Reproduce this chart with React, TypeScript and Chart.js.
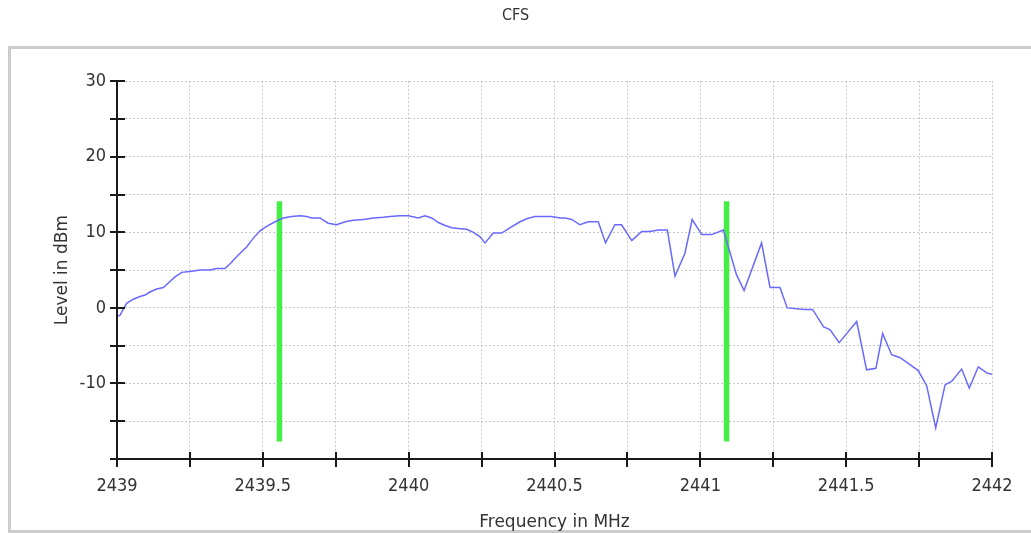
import React, { useEffect, useRef } from "react";
import { Chart, registerables } from "chart.js";

Chart.register(...registerables);

const titleText = "CFS";
const xTitle = "Frequency in MHz";
const yTitle = "Level in dBm";

const freq: number[] = [
  2439.0, 2439.01, 2439.033, 2439.056, 2439.079, 2439.096, 2439.113, 2439.136, 2439.159, 2439.176,
  2439.199, 2439.222, 2439.25, 2439.285, 2439.319, 2439.342, 2439.37, 2439.387, 2439.416, 2439.445,
  2439.467, 2439.49, 2439.513, 2439.542, 2439.57, 2439.599, 2439.627, 2439.65, 2439.668, 2439.696,
  2439.724, 2439.753, 2439.782, 2439.81, 2439.844, 2439.879, 2439.913, 2439.936, 2439.97, 2439.999,
  2440.022, 2440.033, 2440.056, 2440.079, 2440.102, 2440.125, 2440.148, 2440.17, 2440.199, 2440.222,
  2440.245, 2440.262, 2440.29, 2440.319, 2440.347, 2440.382, 2440.405, 2440.433, 2440.462, 2440.49,
  2440.519, 2440.536, 2440.559, 2440.587, 2440.616, 2440.65, 2440.675, 2440.707, 2440.73, 2440.765,
  2440.799, 2440.827, 2440.856, 2440.887, 2440.913, 2440.947, 2440.972, 2441.005, 2441.039, 2441.079,
  2441.124, 2441.15, 2441.21, 2441.239, 2441.273, 2441.298, 2441.359, 2441.385, 2441.422, 2441.445,
  2441.476, 2441.536, 2441.57, 2441.602, 2441.625, 2441.656, 2441.685, 2441.719, 2441.747, 2441.776,
  2441.807, 2441.839, 2441.862, 2441.896, 2441.922, 2441.953, 2441.982, 2442.0,
];

const level: number[] = [
  -1.1, -1.0, 0.6, 1.15, 1.5, 1.7, 2.1, 2.5, 2.7, 3.3,
  4.1, 4.7, 4.8, 5.0, 5.0, 5.2, 5.2, 5.8, 7.0, 8.1,
  9.2, 10.2, 10.8, 11.4, 11.9, 12.1, 12.2, 12.1, 11.9, 11.9,
  11.2, 11.0, 11.4, 11.6, 11.7, 11.9, 12.0, 12.1, 12.2, 12.2,
  12.0, 11.9, 12.2, 11.9, 11.3, 10.9, 10.6, 10.5, 10.4, 10.0,
  9.4, 8.6, 9.9, 9.9, 10.6, 11.4, 11.8, 12.1, 12.1, 12.1,
  11.9, 11.9, 11.7, 11.0, 11.4, 11.4, 8.6, 11.0, 11.0, 8.9,
  10.1, 10.1, 10.3, 10.3, 4.2, 7.2, 11.7, 9.7, 9.7, 10.3,
  4.4, 2.3, 8.6, 2.7, 2.7, 0.0, -0.2, -0.2, -2.5, -2.9,
  -4.6, -1.8, -8.2, -8.0, -3.4, -6.2, -6.6, -7.5, -8.3, -10.3,
  -15.9, -10.2, -9.7, -8.1, -10.6, -7.8, -8.6, -8.8,
];

const markerFreqs: number[] = [2439.557, 2441.09];
const markerRange: number[] = [-17.7, 14.1];

const xMin = 2439;
const xMax = 2442;
const xStep = 0.25;
const yMin = -20;
const yMax = 30;
const yStep = 5;

const frameAndAxes = {
  id: "frameAndAxes",
  beforeDraw(chart: any) {
    const { ctx } = chart;
    ctx.save();
    ctx.fillStyle = "#ffffff";
    ctx.fillRect(0, 0, chart.width, chart.height);
    ctx.strokeStyle = "#cccccc";
    ctx.lineWidth = 3;
    ctx.strokeRect(9.5, 47.5, chart.width + 20, chart.height - 49);
    ctx.restore();
  },
  afterDraw(chart: any) {
    const { ctx, chartArea } = chart;
    const xs = chart.scales.x;
    const ys = chart.scales.y;
    ctx.save();
    ctx.strokeStyle = "#1a1a1a";
    ctx.lineWidth = 2;
    ctx.beginPath();
    ctx.moveTo(chartArea.left, chartArea.top);
    ctx.lineTo(chartArea.left, chartArea.bottom);
    ctx.lineTo(chartArea.right, chartArea.bottom);
    ctx.stroke();
    ys.ticks.forEach((t: any) => {
      const y = Math.round(ys.getPixelForValue(t.value));
      ctx.beginPath();
      ctx.moveTo(chartArea.left - 7, y);
      ctx.lineTo(chartArea.left + 8, y);
      ctx.stroke();
    });
    xs.ticks.forEach((t: any) => {
      const x = Math.round(xs.getPixelForValue(t.value));
      ctx.beginPath();
      ctx.moveTo(x, chartArea.bottom - 7);
      ctx.lineTo(x, chartArea.bottom + 8);
      ctx.stroke();
    });
    ctx.restore();
  },
};

export default function App() {
  const ref = useRef<HTMLCanvasElement | null>(null);
  useEffect(() => {
    if (!ref.current) return;
    const lineData = freq.map((f, i) => ({ x: f, y: level[i] }));
    const markers = markerFreqs.map((f, i) => ({
      label: "marker" + i,
      data: [
        { x: f, y: markerRange[0] },
        { x: f, y: markerRange[1] },
      ],
      borderColor: "#44ee44",
      borderWidth: 5.5,
      pointRadius: 0,
      showLine: true,
      borderCapStyle: "butt",
    }));
    const chart = new Chart(ref.current, {
      type: "scatter",
      data: {
        datasets: [
          {
            label: "level",
            data: lineData,
            borderColor: "rgb(105,105,255)",
            borderWidth: 1.5,
            pointRadius: 0,
            showLine: true,
            tension: 0,
          } as any,
          ...(markers as any[]),
        ],
      },
      options: {
        animation: false,
        responsive: false,
        devicePixelRatio: 1,
        layout: { padding: { left: 0, right: 0, top: 0, bottom: 0 } },
        plugins: {
          legend: { display: false },
          tooltip: { enabled: false },
          title: {
            display: true,
            text: titleText,
            color: "#333333",
            font: { family: "DejaVu Sans Condensed, DejaVu Sans, sans-serif", size: 16, weight: "normal" },
            padding: { top: 6, bottom: 56 },
          },
        },
        scales: {
          x: {
            type: "linear",
            min: xMin,
            max: xMax,
            afterFit: (s: any) => {
              s.height = 74;
            },
            ticks: {
              stepSize: xStep,
              autoSkip: false,
              maxRotation: 0,
              padding: 17,
              color: "#333333",
              font: { family: "DejaVu Sans Condensed, DejaVu Sans, sans-serif", size: 18 },
              callback: (v: any) => {
                const n = Number(v);
                return Math.abs(n * 2 - Math.round(n * 2)) < 1e-6 ? String(n) : "";
              },
            },
            grid: {
              color: "#c8c8c8",
              lineWidth: 1,
              drawTicks: false,
            },
            border: { display: false, dash: [2, 2] },
            title: {
              display: true,
              text: xTitle,
              color: "#333333",
              font: { family: "DejaVu Sans, sans-serif", size: 17 },
              padding: { top: 0, bottom: 0 },
            },
          },
          y: {
            type: "linear",
            min: yMin,
            max: yMax,
            afterFit: (s: any) => {
              s.width = 117;
            },
            ticks: {
              stepSize: yStep,
              autoSkip: false,
              padding: 11,
              color: "#333333",
              font: { family: "DejaVu Sans Condensed, DejaVu Sans, sans-serif", size: 18 },
              callback: (v: any) => {
                const n = Number(v);
                return n % 10 === 0 && n !== yMin ? String(n) : "";
              },
            },
            grid: {
              color: "#c8c8c8",
              lineWidth: 1,
              drawTicks: false,
            },
            border: { display: false, dash: [2, 2] },
            title: {
              display: true,
              text: yTitle,
              color: "#333333",
              font: { family: "DejaVu Sans, sans-serif", size: 17 },
              padding: { top: 52, bottom: 0 },
            },
          },
          spacer: {
            type: "linear",
            position: "right",
            display: true,
            afterFit: (s: any) => {
              s.width = 39;
            },
            ticks: { display: false },
            grid: { display: false, drawTicks: false },
            border: { display: false },
          },
        },
      },
      plugins: [frameAndAxes],
    } as any);
    return () => chart.destroy();
  }, []);
  return (
    <div style={{ position: "absolute", left: 0, top: 0, width: 1031, height: 533 }}>
      <canvas ref={ref} width={1031} height={533} style={{ width: 1031, height: 533 }} />
    </div>
  );
}
